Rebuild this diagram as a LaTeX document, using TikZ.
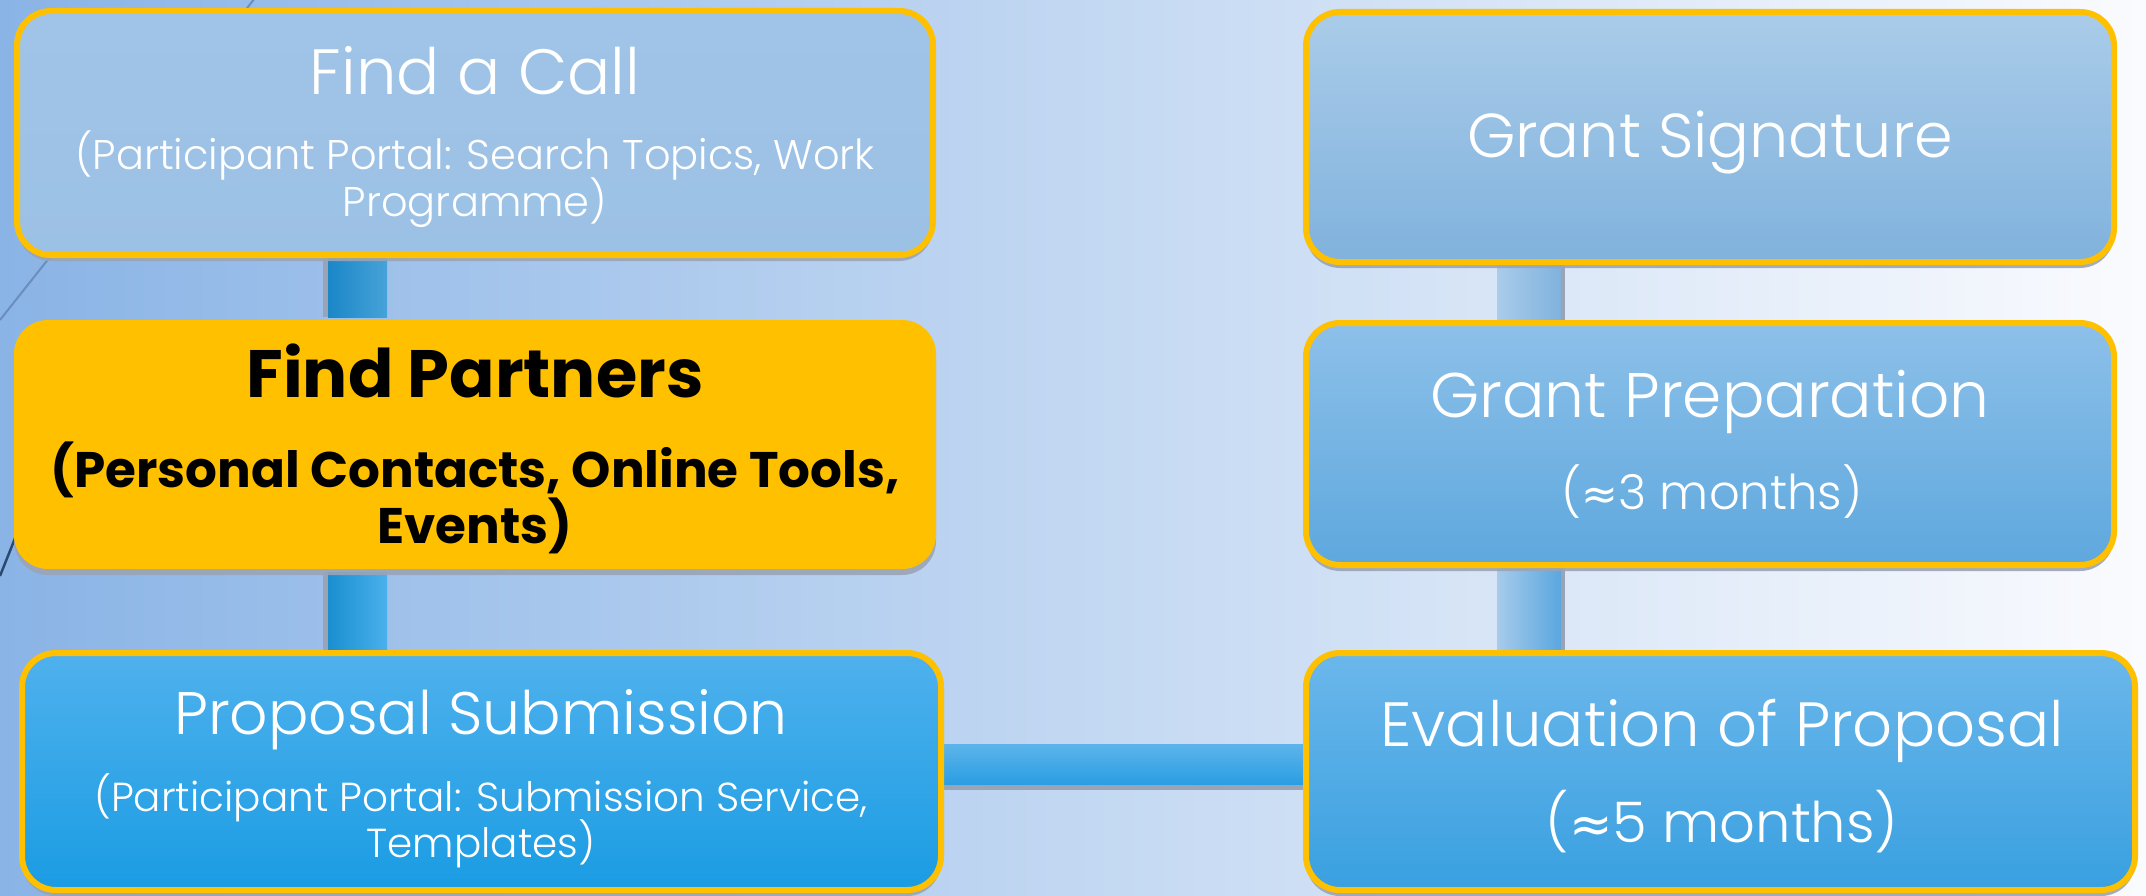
\documentclass[tikz,border=0pt]{standalone}
\usepackage{fontspec}
\setmainfont{Poppins}
\newfontfamily\lightf{Poppins Light}
\newfontfamily\symf{DejaVu Sans}
\usetikzlibrary{shadows,calc}
\pgfdeclarelayer{bg}
\pgfsetlayers{bg,main}
\definecolor{bgL}{HTML}{8AB4E6}
\definecolor{bgM}{HTML}{D9E4F4}
\definecolor{bgR}{HTML}{FAFBFE}
\definecolor{gold}{HTML}{FFC000}
\definecolor{shd}{HTML}{9AA4B6}
\definecolor{bgline}{HTML}{6A8EBE}
\definecolor{bglineD}{HTML}{2A4A72}
\begin{document}
\begin{tikzpicture}[x=1pt,y=-1pt,
  box/.style={rounded corners=34pt, line width=6pt, draw=gold, inner sep=0pt,
    drop shadow={shadow xshift=0pt, shadow yshift=-6pt, fill=shd, opacity=0.9}},
  wt/.style={text=white, inner sep=0pt, anchor=base},
  bt/.style={text=black, inner sep=0pt, anchor=base},
]
\useasboundingbox (0,0) rectangle (2146,896);
\begin{pgfonlayer}{bg}
  \shade[left color=bgL, middle color=bgM, right color=bgR] (0,0) rectangle (2146,896);
  \draw[bgline, line width=2pt] (255,-2) -- (0,320);
  \draw[bglineD, line width=2.5pt] (45,463) -- (0,576);
\end{pgfonlayer}

% boxes
\node[box, top color={rgb,255:red,160;green,196;blue,231}, bottom color={rgb,255:red,155;green,193;blue,229},
  minimum width=916pt, minimum height=244pt] (b1) at (475,133) {};
\node[box, draw=none, fill=gold, minimum width=922pt, minimum height=249pt] (b2) at (475,444.5) {};
\node[box, top color={rgb,255:red,79;green,177;blue,237}, bottom color={rgb,255:red,26;green,156;blue,227},
  minimum width=919pt, minimum height=237pt] (b3) at (481.5,771.5) {};
\node[box, top color={rgb,255:red,170;green,204;blue,233}, bottom color={rgb,255:red,128;green,178;blue,221},
  minimum width=808pt, minimum height=250pt] (b4) at (1710,137) {};
\node[box, top color={rgb,255:red,141;green,192;blue,233}, bottom color={rgb,255:red,94;green,168;blue,222},
  minimum width=808pt, minimum height=242pt] (b5) at (1710,444) {};
\node[box, top color={rgb,255:red,107;green,183;blue,235}, bottom color={rgb,255:red,57;green,160;blue,224},
  minimum width=829pt, minimum height=237pt] (b6) at (1720.5,771.5) {};

% connectors (behind boxes)
\begin{pgfonlayer}{bg}
  % left column
  \fill[shd] ($(b1.south)+(-152,0)$) rectangle ($(b2.north)+(-147,0)$);
  \shade[left color={rgb,255:red,26;green,135;blue,199}, right color={rgb,255:red,71;green,162;blue,216}]
    ($(b1.south)+(-147,0)$) rectangle ($(b2.north)+(-88,0)$);
  \fill[shd] ($(b2.south)+(-152,0)$) rectangle ($(b3.north)+(-153.5,0)$);
  \shade[left color={rgb,255:red,26;green,143;blue,208}, right color={rgb,255:red,74;green,176;blue,236}]
    ($(b2.south)+(-147,0)$) rectangle ($(b3.north)+(-94.5,0)$);
  % right column
  \fill[shd] ($(b4.south)+(-149,0)$) rectangle ($(b5.north)+(-145,0)$);
  \shade[left color={rgb,255:red,169;green,204;blue,234}, right color={rgb,255:red,128;green,178;blue,221}]
    ($(b4.south)+(-213,0)$) rectangle ($(b5.north)+(-149,0)$);
  \fill[shd] ($(b5.south)+(-149,0)$) rectangle ($(b6.north)+(-155.5,0)$);
  \shade[left color={rgb,255:red,167;green,203;blue,234}, right color={rgb,255:red,90;green,167;blue,224}]
    ($(b5.south)+(-213,0)$) rectangle ($(b6.north)+(-159.5,0)$);
  % horizontal
  \fill[shd] ($(b3.east)+(0,12.5)$) rectangle ($(b6.west)+(0,18.5)$);
  \shade[top color={rgb,255:red,93;green,180;blue,234}, bottom color={rgb,255:red,42;green,158;blue,226}]
    ($(b3.east)+(0,-27.5)$) rectangle ($(b6.west)+(0,12.5)$);
\end{pgfonlayer}

% texts
\node[wt, font=\lightf\fontsize{64}{64}\selectfont] (t1a) at (475,95) {Find a Call};
\node[wt, font=\lightf\fontsize{41.5}{41.5}\selectfont] (t1b) at (475,170) {(Participant Portal: Search Topics, Work};
\node[wt, font=\lightf\fontsize{41.5}{41.5}\selectfont] (t1c) at (475,217) {Programme)};

\node[bt, font=\bfseries\fontsize{67}{67}\selectfont] (t2a) at (475,397) {Find Partners};
\node[bt, font=\bfseries\fontsize{50}{50}\selectfont] (t2b) at (475,487) {(Personal Contacts, Online Tools,};
\node[bt, font=\bfseries\fontsize{50}{50}\selectfont] (t2c) at (475,543) {Events)};

\node[wt, font=\lightf\fontsize{60}{60}\selectfont] (t3a) at (481,734) {Proposal Submission};
\node[wt, font=\lightf\fontsize{40.5}{40.5}\selectfont] (t3b) at (481,811) {(Participant Portal: Submission Service,};
\node[wt, font=\lightf\fontsize{40.5}{40.5}\selectfont] (t3c) at (481,857) {Templates)};

\node[wt, font=\lightf\fontsize{62}{62}\selectfont] (t4a) at (1710,158) {Grant Signature};

\node[wt, font=\lightf\fontsize{63}{63}\selectfont] (t5a) at (1710,417) {Grant Preparation};
\node[wt, font=\lightf\fontsize{48}{48}\selectfont] (t5b) at (1712,509) {({\symf\fontsize{44}{44}\selectfont ≈}3 months)};

\node[wt, font=\lightf\fontsize{62.5}{62.5}\selectfont] (t6a) at (1722,746) {Evaluation of Proposal};
\node[wt, font=\lightf\fontsize{56}{56}\selectfont] (t6b) at (1722,842) {({\symf\fontsize{52}{52}\selectfont ≈}5 months)};
\end{tikzpicture}
\end{document}
